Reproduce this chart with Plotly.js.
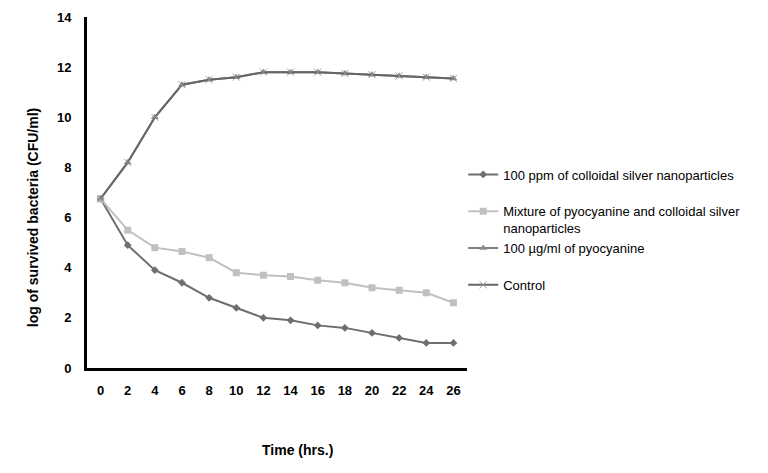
<!DOCTYPE html>
<html>
<head>
<meta charset="utf-8">
<script src="https://cdn.plot.ly/plotly-3.0.1.min.js"></script>
<style>html,body{margin:0;padding:0;background:#fff;}#chart{width:768px;height:473px;}</style>
</head>
<body>
<div id="chart"></div>
<script>
const hours = [0, 2, 4, 6, 8, 10, 12, 14, 16, 18, 20, 22, 24, 26];
const silverNP = [6.75, 4.9, 3.9, 3.4, 2.8, 2.4, 2.0, 1.9, 1.7, 1.6, 1.4, 1.2, 1.0, 1.0];
const mixture = [6.75, 5.5, 4.8, 4.65, 4.4, 3.8, 3.7, 3.65, 3.5, 3.4, 3.2, 3.1, 3.0, 2.6];
const pyocyanine = [6.75, 8.2, 10.0, 11.3, 11.5, 11.6, 11.8, 11.8, 11.8, 11.75, 11.7, 11.65, 11.6, 11.55];
const control = [6.75, 8.2, 10.0, 11.3, 11.5, 11.6, 11.8, 11.8, 11.8, 11.75, 11.7, 11.65, 11.6, 11.55];
const seriesNames = [
  "100 ppm of colloidal silver nanoparticles<br>\u00a0",
  "Mixture of pyocyanine and colloidal silver<br>nanoparticles",
  "100 µg/ml of pyocyanine<br>\u00a0",
  "Control<br>\u00a0"
];
const yTicks = [0, 2, 4, 6, 8, 10, 12, 14];
const xTitle = "Time (hrs.)";
const yTitle = "log of survived bacteria (CFU/ml)";

const font = "Liberation Sans, Arial, sans-serif";

const traces = [
  {x: hours, y: silverNP, name: seriesNames[0], legendgroup: "a", mode: "lines+markers",
   line: {color: "#6e6e6e", width: 2}, marker: {symbol: "diamond", size: 6, color: "#6e6e6e"}},
  {x: hours, y: mixture, name: seriesNames[1], legendgroup: "b", mode: "lines+markers",
   line: {color: "#c0c0c0", width: 2}, marker: {symbol: "square", size: 7, color: "#c0c0c0"}},
  {x: hours, y: pyocyanine, name: seriesNames[2], legendgroup: "c", mode: "lines+markers",
   line: {color: "#808080", width: 2}, marker: {symbol: "triangle-up", size: 7, color: "#8c8c8c"}},
  {x: hours, y: control, name: seriesNames[3], legendgroup: "d", mode: "lines+markers",
   line: {color: "#666666", width: 2}, marker: {symbol: "x-thin-open", size: 7, color: "#999999", line: {width: 1, color: "#999999"}}}
];

const layout = {
  width: 768, height: 473,
  margin: {l: 87, r: 301, t: 17, b: 105},
  paper_bgcolor: "#ffffff", plot_bgcolor: "#ffffff",
  font: {family: font, color: "#000", size: 13},
  showlegend: true,
  legend: {x: 0.99, xanchor: "left", y: 0.594, yanchor: "top", valign: "top",
    traceorder: "grouped", tracegroupgap: 0, font: {family: font, size: 13, color: "#000"},
    bgcolor: "rgba(0,0,0,0)"},
  xaxis: {range: [-1, 27], tickvals: hours, ticktext: hours.map(String), showgrid: false, zeroline: false,
    showline: true, linecolor: "#000", linewidth: 3, ticks: "", ticklabelstandoff: 8,
    tickfont: {family: font, size: 13, color: "#000", weight: "bold"}},
  yaxis: {range: [0, 14], tickvals: yTicks, showgrid: false, zeroline: false,
    showline: true, linecolor: "#000", linewidth: 3, ticks: "", ticklabelstandoff: 10,
    tickfont: {family: font, size: 13, color: "#000", weight: "bold"}},
  annotations: [
    {text: "<b>" + xTitle + "</b>", xref: "paper", yref: "paper", x: 0.553, y: -0.234,
     xanchor: "center", yanchor: "middle", showarrow: false, font: {family: font, size: 14, color: "#000"}},
    {text: "<b>" + yTitle + "</b>", xref: "paper", yref: "paper", x: -0.142, y: 0.427, textangle: -90,
     xanchor: "center", yanchor: "middle", showarrow: false, font: {family: font, size: 14, color: "#000"}}
  ]
};

Plotly.newPlot("chart", traces, layout, {displayModeBar: false, staticPlot: true});
</script>
</body>
</html>
